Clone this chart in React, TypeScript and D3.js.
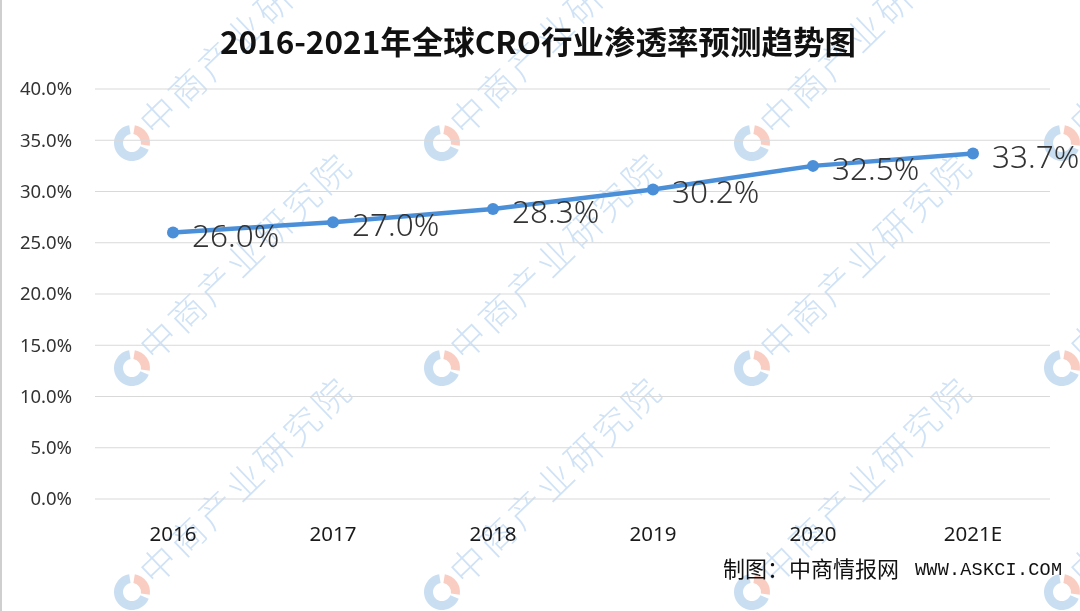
import React from "react";
import * as d3 from "d3";

const categories = ["2016", "2017", "2018", "2019", "2020", "2021E"];
const values = [0.26, 0.27, 0.283, 0.302, 0.325, 0.337];
const valueLabels = ["26.0%", "27.0%", "28.3%", "30.2%", "32.5%", "33.7%"];
const yTicks = [0, 0.05, 0.1, 0.15, 0.2, 0.25, 0.3, 0.35, 0.4];
const title = "2016-2021年全球CRO行业渗透率预测趋势图";
const source = "制图：中商情报网";
const sourceUrl = "WWW.ASKCI.COM";
const watermark = "中商产业研究院";
const wmCols = [132, 442, 752, 1062];
const wmRows = [143, 368, 592];

const W = 1080;
const H = 611;

export default function App() {
  const x = d3.scaleBand<string>().domain(categories).range([93, 1053]).padding(0);
  const y = d3.scaleLinear().domain([0, 0.4]).range([499, 89]);
  const cx = (c: string) => (x(c) ?? 0) + x.bandwidth() / 2;
  const line = d3
    .line<number>()
    .x((_, i) => cx(categories[i]))
    .y((d) => y(d))
    .curve(d3.curveLinear);

  const wmPos: [number, number][] = [];
  wmCols.forEach((wx) => wmRows.forEach((wy) => wmPos.push([wx, wy])));

  const ring = d3.arc<any>().innerRadius(9).outerRadius(18);

  return (
    <svg
      width={W}
      height={H}
      style={{ position: "absolute", left: 0, top: 0, background: "#fff" }}
      fontFamily="'Noto Sans', sans-serif"
    >
      <rect x={0} y={0} width={W} height={H} fill="#fff" />
      <line x1={1} x2={1} y1={0} y2={H} stroke="#cfcfcf" strokeWidth={2} />
      {/* watermarks */}
      <g opacity={0.55}>
        {wmPos.map(([wx, wy], i) => (
          <g key={i} transform={`translate(${wx},${wy})`}>
            <path d={ring({ startAngle: Math.PI * 0.62, endAngle: Math.PI * 1.95 }) ?? ""} fill="#9ec4e8" />
            <path d={ring({ startAngle: Math.PI * 0.05, endAngle: Math.PI * 0.55 }) ?? ""} fill="#f4a58f" />
            <text
              x={20}
              y={12}
              transform="rotate(-44)"
              fontSize={36}
              fill="#a8cbee"
              fontWeight={300}
              letterSpacing={4}
              fontFamily="'Noto Sans CJK SC'"
            >
              {watermark}
            </text>
          </g>
        ))}
      </g>

      <text
        x={538}
        y={54}
        textAnchor="middle"
        fontSize={31.5}
        fontWeight={700}
        fill="#111"
        fontFamily="'Noto Sans CJK SC', sans-serif"
      >
        {title}
      </text>

      {yTicks.map((t) => (
        <g key={t}>
          <line x1={95} x2={1050} y1={y(t)} y2={y(t)} stroke="#d9d9d9" strokeWidth={1} />
          <text x={72} y={y(t)} dy="0.35em" textAnchor="end" fontSize={18.5} fill="#333">
            {(t * 100).toFixed(1) + "%"}
          </text>
        </g>
      ))}

      {categories.map((c) => (
        <text key={c} x={cx(c)} y={534} dy="0.35em" textAnchor="middle" fontSize={20.5} fill="#1a1a1a">
          {c}
        </text>
      ))}

      <path d={line(values) ?? ""} fill="none" stroke="#4a8fd8" strokeWidth={4.5} strokeLinejoin="round" />
      {values.map((v, i) => (
        <circle key={i} cx={cx(categories[i])} cy={y(v)} r={6} fill="#4a8fd8" />
      ))}
      {values.map((v, i) => (
        <text
          key={"l" + i}
          x={cx(categories[i]) + 19}
          y={y(v) + 3}
          dy="0.35em"
          fontSize={31.5}
          fontWeight={300}
          fill="#333"
        >
          {valueLabels[i]}
        </text>
      ))}

      <text x={723} y={569} dy="0.35em" fontSize={22} fill="#111" fontFamily="'Noto Sans CJK SC'">
        {source}
      </text>
      <text
        x={915}
        y={569}
        dy="0.35em"
        fontSize={18.5}
        fill="#111"
        textLength={147}
        fontFamily="'Liberation Mono', monospace"
      >
        {sourceUrl}
      </text>
    </svg>
  );
}
